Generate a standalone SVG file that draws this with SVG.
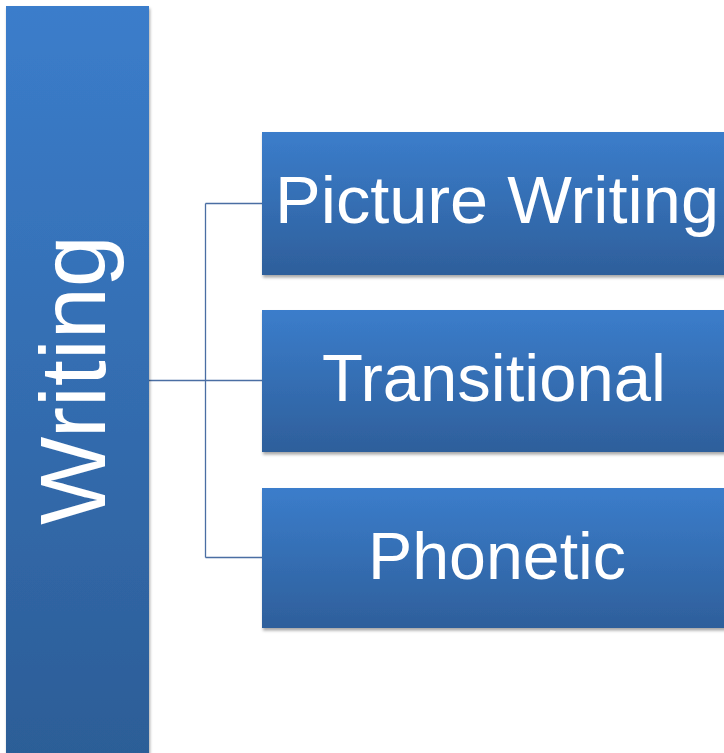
<svg xmlns="http://www.w3.org/2000/svg" width="724" height="753" viewBox="0 0 724 753">
<style>
.lbl{font-family:"Liberation Sans",Arial,sans-serif;fill:#ffffff;text-anchor:middle}
.conn{stroke:#4a6ea3;stroke-width:1.3;fill:none}
</style>
<defs>
<linearGradient id="gBar" x1="0" y1="0" x2="0" y2="1">
<stop offset="0" stop-color="#3b7dcb"/>
<stop offset="1" stop-color="#2c5d96"/>
</linearGradient>
<linearGradient id="gBox" x1="0" y1="0" x2="0" y2="1">
<stop offset="0" stop-color="#3b7dcb"/>
<stop offset="1" stop-color="#2e5f9b"/>
</linearGradient>
<filter id="sh" x="-5%" y="-5%" width="115%" height="115%">
<feDropShadow dx="1" dy="2.5" stdDeviation="1.5" flood-color="#000" flood-opacity="0.35"/>
</filter>
</defs>
<rect width="724" height="753" fill="#ffffff"/>
<g id="connectors">
<path class="conn" d="M149,380.5 H205.5 M205.5,203.5 V557.5 M205.5,203.5 H262 M205.5,380.5 H262 M205.5,557.5 H262"/>
</g>
<g id="writing">
<rect x="6" y="6" width="143" height="760" fill="url(#gBar)" filter="url(#sh)"/>
<text class="lbl" transform="translate(105,380) rotate(-90)" font-size="92" textLength="290" lengthAdjust="spacingAndGlyphs">Writing</text>
</g>
<g id="picture-writing">
<rect x="262" y="132" width="470" height="143" fill="url(#gBox)" filter="url(#sh)"/>
<text class="lbl" x="497" y="223" font-size="66" textLength="444" lengthAdjust="spacingAndGlyphs">Picture Writing</text>
</g>
<g id="transitional">
<rect x="262" y="310" width="470" height="142" fill="url(#gBox)" filter="url(#sh)"/>
<text class="lbl" x="494" y="401" font-size="66" textLength="344" lengthAdjust="spacingAndGlyphs">Transitional</text>
</g>
<g id="phonetic">
<rect x="262" y="488" width="470" height="140" fill="url(#gBox)" filter="url(#sh)"/>
<text class="lbl" x="497" y="579" font-size="66" textLength="258" lengthAdjust="spacingAndGlyphs">Phonetic</text>
</g>
</svg>
